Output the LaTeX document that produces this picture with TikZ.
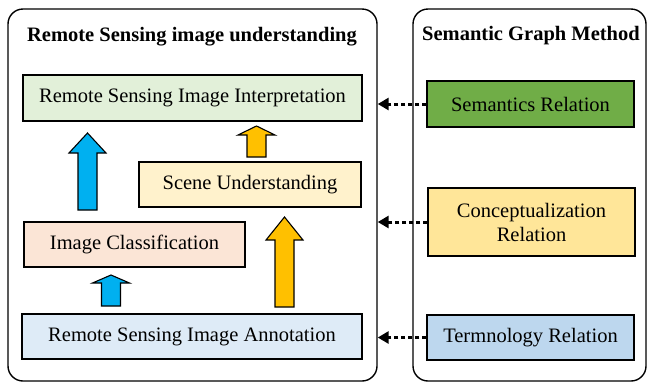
\documentclass[tikz,border=0pt]{standalone}
\usepackage{fontspec}
\setmainfont{Liberation Serif}
\usepackage{tikz}
\usetikzlibrary{arrows.meta,shapes}
\definecolor{interpfill}{HTML}{E2F0D9}
\definecolor{scenefill}{HTML}{FFF2CC}
\definecolor{classfill}{HTML}{FBE5D6}
\definecolor{annotfill}{HTML}{DEEBF7}
\definecolor{semfill}{HTML}{70AD47}
\definecolor{conceptfill}{HTML}{FFE699}
\definecolor{termfill}{HTML}{BDD7EE}
\definecolor{arrowblue}{HTML}{00B0F0}
\definecolor{arroworange}{HTML}{FFC000}
\tikzstyle{panel}=[draw,line width=1.4pt,rounded corners=15pt,inner sep=0pt]
\tikzstyle{task}=[draw,line width=1.1pt,minimum height=45pt,inner sep=0pt,font=\fontsize{20.5}{24}\selectfont,align=center]
\tikzstyle{paneltitle}=[font=\fontsize{20.5}{24}\selectfont\bfseries]
\tikzstyle{relation}=[draw,line width=3pt,dash pattern=on 4pt off 3pt,-{Triangle[length=11pt,width=12pt]}]
% block arrow: centre x, tip y, head base y, bottom y, colour
\newcommand{\blockarrow}[5]{
    \filldraw[fill=#5,line width=1.1pt,line join=miter]
        (#1-9.5,#4) -- (#1-9.5,#3) -- (#1-18.5,#3) -- (#1,#2)
        -- (#1+18.5,#3) -- (#1+9.5,#3) -- (#1+9.5,#4) -- cycle;
}

\begin{document}
\begin{tikzpicture}[x=1pt,y=-1pt]
    \useasboundingbox (0,0) rectangle (647,384);
    % First we draw the two panels and their titles
    \node[panel,minimum width=369pt,minimum height=372pt] (left) at (192.5,195) {};
    \node[panel,minimum width=233pt,minimum height=372pt] (right) at (529.5,195) {};
    \node[paneltitle] (lefttitle) at (192,37) {Remote Sensing image understanding};
    \node[paneltitle] (righttitle) at (531,36) {Semantic Graph Method};
    % Tasks of the left panel
    \node[task,fill=interpfill,minimum width=339pt,minimum height=46pt] (interp) at (192.5,98) {Remote Sensing Image Interpretation};
    \node[task,fill=scenefill,minimum width=222pt] (scene) at (250,184.5) {Scene Understanding};
    \node[task,fill=classfill,minimum width=221pt] (classif) at (134.5,244.5) {Image Classification};
    \node[task,fill=annotfill,minimum width=340pt] (annot) at (192,336.5) {Remote Sensing Image Annotation};
    % Relations of the right panel
    \node[task,fill=semfill,minimum width=207pt,minimum height=46pt] (sem) at (530.5,104) {Semantics Relation};
    \node[task,fill=conceptfill,minimum width=207pt,minimum height=68pt] (concept) at (531.5,222) {Conceptualization\\Relation};
    \node[task,fill=termfill,minimum width=207pt] (term) at (530.5,337.5) {Termnology Relation};
    % Block arrows between the tasks
    \blockarrow{87.5}{133}{153}{210}{arrowblue}
    \blockarrow{256.5}{126}{135}{157}{arroworange}
    \blockarrow{111}{275}{283}{306}{arrowblue}
    \blockarrow{284.5}{217}{240}{307}{arroworange}
    % Connect relations with the left panel
    \foreach \source in {sem, concept, term}
        \path[relation] (\source.west) -- (\source.west -| left.east);
\end{tikzpicture}
\end{document}
